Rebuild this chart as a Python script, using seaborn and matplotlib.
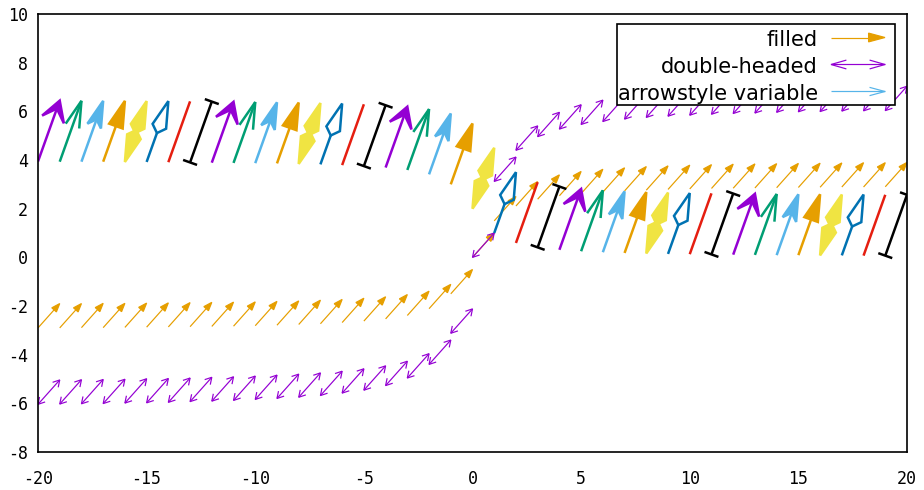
import numpy as np
import matplotlib
matplotlib.use("Agg")
import matplotlib.pyplot as plt
import seaborn as sns
from matplotlib.patches import Polygon, Rectangle
from matplotlib.lines import Line2D

# ---------------- data ----------------
x_pos = [-20, -19, -18, -17, -16, -15, -14, -13, -12, -11,
         -10, -9, -8, -7, -6, -5, -4, -3, -2, -1,
         0, 1, 2, 3, 4, 5, 6, 7, 8, 9,
         10, 11, 12, 13, 14, 15, 16, 17, 18, 19]

filled_y = [-2.90, -2.90, -2.89, -2.89, -2.88, -2.87, -2.86, -2.85, -2.84, -2.83,
            -2.81, -2.79, -2.76, -2.73, -2.68, -2.62, -2.53, -2.39, -2.11, -1.50,
            0.00, 1.50, 2.11, 2.39, 2.53, 2.62, 2.68, 2.73, 2.76, 2.79,
            2.81, 2.83, 2.84, 2.85, 2.86, 2.87, 2.88, 2.89, 2.89, 2.90]

double_y = [-6.04, -6.03, -6.02, -6.01, -5.99, -5.98, -5.96, -5.93, -5.91, -5.88,
            -5.84, -5.80, -5.75, -5.68, -5.58, -5.46, -5.27, -4.96, -4.40, -3.12,
            0.00, 3.12, 4.40, 4.96, 5.27, 5.46, 5.58, 5.68, 5.75, 5.80,
            5.84, 5.88, 5.91, 5.93, 5.96, 5.98, 5.99, 6.01, 6.02, 6.03]

variable_y = [3.94, 3.93, 3.93, 3.93, 3.92, 3.92, 3.91, 3.90, 3.89, 3.88,
              3.87, 3.86, 3.84, 3.82, 3.79, 3.75, 3.69, 3.59, 3.41, 3.00,
              2.00, 1.00, 0.59, 0.41, 0.31, 0.25, 0.21, 0.18, 0.16, 0.14,
              0.13, 0.12, 0.11, 0.10, 0.09, 0.09, 0.08, 0.08, 0.07, 0.07]

variable_style = [1, 2, 3, 4, 5, 6, 7, 8, 1, 2, 3, 4, 5, 6, 7, 8,
                  1, 2, 3, 4, 5, 6, 7, 8, 1, 2, 3, 4, 5, 6, 7, 8,
                  1, 2, 3, 4, 5, 6, 7, 8]

small_dx, small_dy = 1.0, 1.0      # vector components of small arrows
big_dx, big_dy = 1.0, 2.5          # vector components of variable-style arrows

x_ticks = [-20, -15, -10, -5, 0, 5, 10, 15, 20]
y_ticks = [-8, -6, -4, -2, 0, 2, 4, 6, 8, 10]
legend_labels = ["filled", "double-headed", "arrowstyle variable"]

# ---------------- styling ----------------
sns.set_theme(style="white")
plt.rcParams["font.family"] = ["DejaVu Sans Mono", "DejaVu Sans"]
plt.rcParams["axes.unicode_minus"] = False

W, H = 924, 490
fig = plt.figure(figsize=(W / 100, H / 100), dpi=100)
ax = fig.add_axes([38 / W, 1 - 452 / H, (907 - 38) / W, (452 - 14) / H])
ax.set_xlim(-20, 20)
ax.set_ylim(-8, 10)
ax.set_xticks(x_ticks)
ax.set_yticks(y_ticks)
ax.tick_params(axis="x", length=0, pad=13, labelsize=12, colors="black")
ax.tick_params(axis="y", length=0, pad=7.2, labelsize=12, colors="black")
for s in ax.spines.values():
    s.set_visible(True)
    s.set_color("black")
    s.set_linewidth(1.2)
    s.set_zorder(20)
ax.set_facecolor("white")

PX = 0.72  # points per pixel at 100 dpi


def to_disp(x, y):
    return np.asarray(ax.transData.transform((x, y)), dtype=float)


def to_data(pts):
    return ax.transData.inverted().transform(np.asarray(pts, dtype=float))


def add_line(pts, color, lw_px, z):
    d = to_data(pts)
    ax.add_line(Line2D(d[:, 0], d[:, 1], color=color, lw=lw_px * PX,
                       solid_capstyle="butt", solid_joinstyle="miter", zorder=z))


def add_poly(pts, face, edge, lw_px, z):
    ax.add_patch(Polygon(to_data(pts), closed=True, facecolor=face, edgecolor=edge,
                         lw=lw_px * PX, joinstyle="miter", zorder=z))


def head_geom(tip, u, n, L, alpha, beta):
    a = np.radians(alpha)
    b = np.radians(beta)
    b1 = tip - L * (np.cos(a) * u + np.sin(a) * n)
    b2 = tip - L * (np.cos(a) * u - np.sin(a) * n)
    back = tip - (L * np.sin(b - a) / np.sin(b)) * u
    return b1, b2, back


def draw_arrow(p0, p1, color, lw, head="open", both=False, L=9.0, alpha=15.0,
               beta=90.0, z=3):
    d = p1 - p0
    length = np.hypot(d[0], d[1])
    u = d / length
    n = np.array([-u[1], u[0]])
    if head == "none":
        add_line([p0, p1], color, lw, z)
        return
    tips = [(p1, u, n)]
    if both:
        tips.append((p0, -u, -n))
    geoms = []
    for tip, uu, nn in tips:
        b1, b2, back = head_geom(tip, uu, nn, L, alpha, beta)
        geoms.append((tip, b1, b2, back))
    s0, s1 = p0, p1
    if head in ("filled", "empty"):
        s1 = geoms[0][3]
        if both:
            s0 = geoms[1][3]
    add_line([s0, s1], color, lw, z)
    for tip, b1, b2, back in geoms:
        if head == "open":
            add_line([b1, tip, b2], color, lw, z)
        elif head == "filled":
            add_poly([tip, b1, back, b2], color, color, lw, z)
        else:
            add_poly([tip, b1, back, b2], "none", color, lw, z)


STYLES = {
    1: dict(color="#9400D3", head="filled", L=23.1, alpha=30, beta=45),
    2: dict(color="#009E73", head="open", L=27.7, alpha=15, beta=90),
    3: dict(color="#56B4E9", head="filled", L=27.7, alpha=15, beta=45),
    4: dict(color="#E69F00", head="filled", L=27.7, alpha=15, beta=90),
    5: dict(color="#F0E442", head="filled", both=True, L=27.7, alpha=15, beta=135),
    6: dict(color="#0072B2", head="empty", L=27.7, alpha=15, beta=135),
    7: dict(color="#E51E10", head="none"),
    8: dict(color="#000000", head="open", both=True, L=7.4, alpha=90, beta=90),
}

# series 1: filled small arrows
for x, y in zip(x_pos, filled_y):
    draw_arrow(to_disp(x, y), to_disp(x + small_dx, y + small_dy), "#E69F00", 1.2,
               head="filled", L=9.0, alpha=20, beta=90, z=2)

# series 2: double-headed small arrows
for x, y in zip(x_pos, double_y):
    draw_arrow(to_disp(x, y), to_disp(x + small_dx, y + small_dy), "#9400D3", 1.2,
               head="open", both=True, L=7.5, alpha=30, beta=90, z=3)

# series 3: arrowstyle variable
for x, y, st in zip(x_pos, variable_y, variable_style):
    spec = dict(STYLES[st])
    color = spec.pop("color")
    draw_arrow(to_disp(x, y), to_disp(x + big_dx, y + big_dy), color, 2.5, z=4, **spec)

# ---------------- legend (opaque box, gnuplot style) ----------------
lx0, ly0, lx1, ly1 = 617, 24, 895, 105
ax.add_patch(Rectangle((lx0 / W, 1 - ly1 / H), (lx1 - lx0) / W, (ly1 - ly0) / H,
                       transform=fig.transFigure, facecolor="white", edgecolor="black",
                       lw=1.2, zorder=10, clip_on=False))


def px(xp, yp):
    return np.array([xp, H - yp], dtype=float)


rows = [37.5, 64.5, 91.5]
baselines = [46, 73, 100]
draw_arrow(px(831, rows[0]), px(885, rows[0]), "#E69F00", 1.2, head="filled",
           L=17, alpha=15, beta=90, z=11)
draw_arrow(px(831, rows[1]), px(885, rows[1]), "#9400D3", 1.2, head="open", both=True,
           L=16, alpha=16, beta=90, z=11)
draw_arrow(px(831, rows[2]), px(885, rows[2]), "#56B4E9", 1.2, head="open",
           L=16, alpha=15, beta=90, z=11)
for lab, b in zip(legend_labels, baselines):
    fig.text(818 / W, 1 - b / H, lab, ha="right", va="baseline", fontsize=15,
             family=["DejaVu Sans"], color="black", zorder=12)

fig.savefig("out.png", dpi=100, facecolor="white")
